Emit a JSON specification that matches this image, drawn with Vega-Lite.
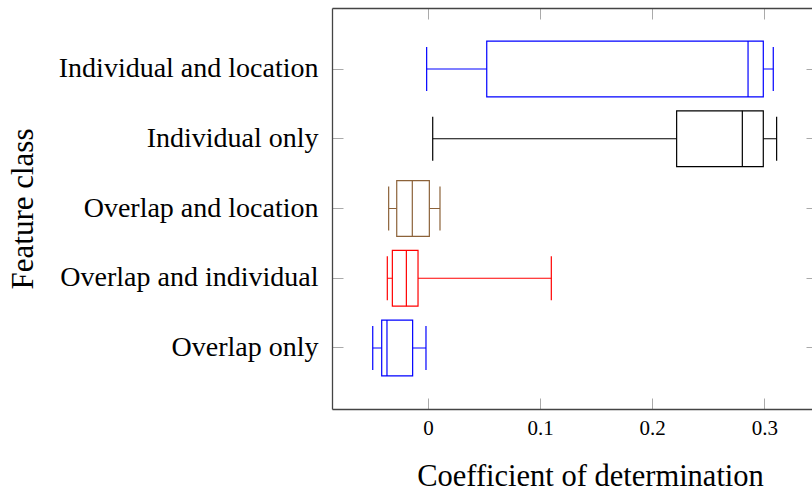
{
  "$schema": "https://vega.github.io/schema/vega-lite/v6.json",
  "width": 480,
  "height": 401,
  "autosize": {"type": "none"},
  "padding": {"left": 332, "top": 8, "right": 0, "bottom": 87},
  "background": "white",
  "config": {
    "view": {"stroke": null},
    "font": "Liberation Serif",
    "axis": {
      "grid": false,
      "domainColor": "#444444",
      "domainWidth": 1.3,
      "tickColor": "#aaaaaa",
      "tickWidth": 1,
      "labelColor": "#000000",
      "titleColor": "#000000",
      "labelFont": "Liberation Serif",
      "titleFont": "Liberation Serif",
      "titleFontWeight": "normal",
      "labelLimit": 0
    }
  },
  "data": {
    "values": [
      {"cls": "Individual and location", "lo": -0.0012, "q1": 0.0524, "med": 0.2855, "q3": 0.2991, "hi": 0.308},
      {"cls": "Individual only", "lo": 0.0042, "q1": 0.2218, "med": 0.2804, "q3": 0.2991, "hi": 0.311},
      {"cls": "Overlap and location", "lo": -0.0351, "q1": -0.0279, "med": -0.014, "q3": 0.0012, "hi": 0.0107},
      {"cls": "Overlap and individual", "lo": -0.0363, "q1": -0.0318, "med": -0.0193, "q3": -0.0089, "hi": 0.11},
      {"cls": "Overlap only", "lo": -0.0493, "q1": -0.0413, "med": -0.0366, "q3": -0.0137, "hi": -0.0018}
    ]
  },
  "resolve": {"axis": {"x": "independent", "y": "independent"}},
  "layer": [
    {
      "mark": {"type": "rule", "strokeWidth": 1.2},
      "encoding": {
        "y": {
          "field": "cls", "type": "nominal", "sort": null,
          "scale": {"paddingInner": 0, "paddingOuter": 0.3746},
          "axis": {
            "orient": "left", "title": "Feature class",
            "tickSize": -11, "labelPadding": 25, "labelFontSize": 28,
            "titleFontSize": 31, "titleAngle": -90,
            "titleX": -300, "titleY": 200.5, "titleAlign": "center", "titleBaseline": "alphabetic"
          }
        },
        "x": {
          "field": "lo", "type": "quantitative",
          "scale": {"domain": [-0.08564, 0.34255], "nice": false, "zero": false},
          "axis": {
            "orient": "bottom", "values": [0, 0.1, 0.2, 0.3],
            "labelExpr": "datum.value == 0 ? '0' : datum.label",
            "tickSize": -11, "labelPadding": 19, "labelFontSize": 21,
            "title": "Coefficient of determination", "titleFontSize": 30.5,
            "titleX": 258, "titleY": 76, "titleAlign": "center", "titleBaseline": "alphabetic"
          }
        },
        "x2": {"field": "hi"},
        "color": {
          "field": "cls", "type": "nominal", "legend": null,
          "scale": {
            "domain": ["Individual and location", "Individual only", "Overlap and location", "Overlap and individual", "Overlap only"],
            "range": ["#0000ff", "#000000", "#8c6239", "#ff0000", "#0000ff"]
          }
        }
      }
    },
    {
      "mark": {"type": "bar", "fill": "white", "strokeWidth": 1.2, "height": {"band": 0.8}},
      "encoding": {
        "y": {
          "field": "cls", "type": "nominal", "sort": null,
          "axis": {"orient": "right", "labels": false, "domain": false, "tickSize": -6, "title": null}
        },
        "x": {
          "field": "q1", "type": "quantitative",
          "axis": {"orient": "top", "labels": false, "values": [0, 0.1, 0.2, 0.3], "tickSize": -11, "title": null}
        },
        "x2": {"field": "q3"},
        "stroke": {"field": "cls", "type": "nominal", "legend": null, "scale": {
          "domain": ["Individual and location", "Individual only", "Overlap and location", "Overlap and individual", "Overlap only"],
          "range": ["#0000ff", "#000000", "#8c6239", "#ff0000", "#0000ff"]
        }}
      }
    },
    {
      "mark": {"type": "tick", "size": 56, "thickness": 1.2, "opacity": 1},
      "encoding": {
        "y": {"field": "cls", "type": "nominal", "sort": null, "axis": null},
        "x": {"field": "med", "type": "quantitative", "axis": null},
        "color": {"field": "cls", "type": "nominal", "legend": null}
      }
    },
    {
      "mark": {"type": "tick", "size": 44, "thickness": 1.2, "opacity": 1},
      "encoding": {
        "y": {"field": "cls", "type": "nominal", "sort": null, "axis": null},
        "x": {"field": "lo", "type": "quantitative", "axis": null},
        "color": {"field": "cls", "type": "nominal", "legend": null}
      }
    },
    {
      "mark": {"type": "tick", "size": 44, "thickness": 1.2, "opacity": 1},
      "encoding": {
        "y": {"field": "cls", "type": "nominal", "sort": null, "axis": null},
        "x": {"field": "hi", "type": "quantitative", "axis": null},
        "color": {"field": "cls", "type": "nominal", "legend": null}
      }
    }
  ]
}
